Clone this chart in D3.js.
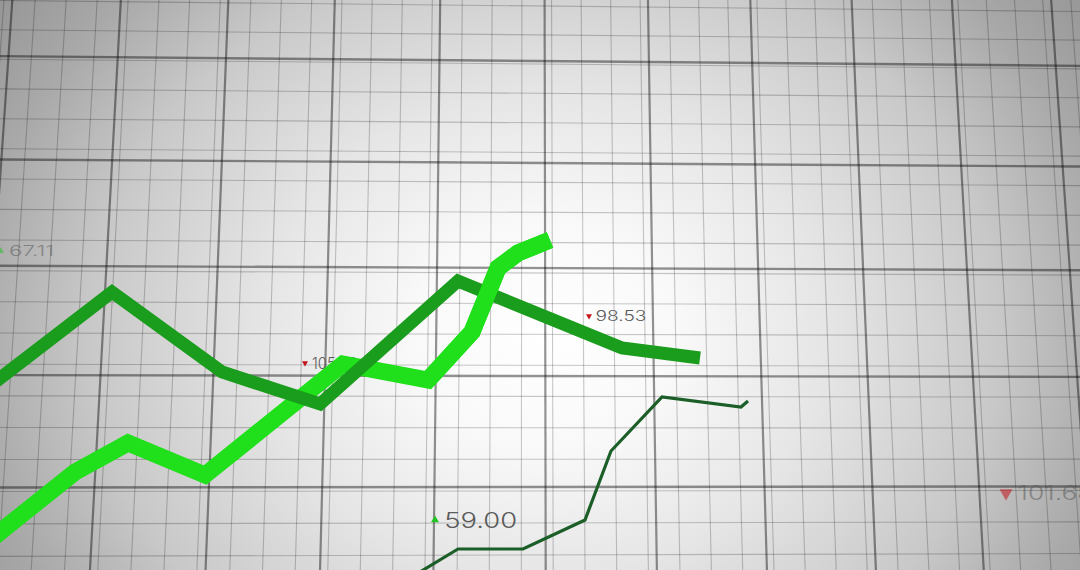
<!DOCTYPE html>
<html>
<head>
<meta charset="utf-8">
<script src="https://cdn.jsdelivr.net/npm/d3@7"></script>
<style>
  html, body { margin: 0; padding: 0; background: #fff; overflow: hidden; }
  svg { display: block; }
</style>
</head>
<body>
<svg id="chart" width="1080" height="570"></svg>
<script>
// ---------------- DATA ----------------
// time axis (arbitrary units) and price-like values for the three series
const tBright = [-1, 7.5, 12.8, 20.5, 34.3, 42.8, 47.2, 49.8, 51.8, 55];
const vBright = [3.0, 9.8, 12.7, 9.5, 20.6, 19.0, 23.8, 30.2, 31.7, 33.0];

const tDark = [-1, 11.2, 22.2, 32, 45.8, 62.2, 70];
const vDark = [18.4, 27.8, 19.8, 16.6, 28.9, 22.2, 21.2];

const tThin = [41, 45.8, 52.3, 58.5, 61.1, 66.2, 74.1, 74.8];
const vThin = [-0.8, 2.1, 2.1, 5.0, 11.9, 17.3, 16.3, 16.9];

// ticker labels
const labelText = ["67.11", "105.63", "98.53", "59.00", "101.68"];
const labelDir  = ["up", "down", "down", "up", "down"];
const labelT    = [0.05, 30.5, 58.9, 43.5, 100.6];
const labelV    = [31.9, 20.7, 25.4, 5.0, 7.7];

// ---------------- SETUP ----------------
const W = 1080, H = 570;
const svg = d3.select("#chart");
const x = d3.scaleLinear().domain([0, 108]).range([0, W]);
const y = d3.scaleLinear().domain([0, 57]).range([H, 0]);

const defs = svg.append("defs");
const grad = defs.append("radialGradient")
  .attr("id", "bg")
  .attr("gradientUnits", "userSpaceOnUse")
  .attr("cx", 0).attr("cy", 0).attr("r", 1)
  .attr("gradientTransform", "translate(545,335) scale(735,630)");
[[0, "#ffffff"], [0.18, "#f9f9f9"], [0.38, "#e6e6e6"], [0.62, "#c8c8c8"], [0.78, "#a9a9a9"], [1, "#8a8a8a"]]
  .forEach(([o, c]) => grad.append("stop").attr("offset", o).attr("stop-color", c));

svg.append("rect").attr("width", W).attr("height", H).attr("fill", "url(#bg)");

// ---------------- PERSPECTIVE GRID ----------------
const X0 = 530, YV = -7550, YREF = 200;
function vx(u, yy) { return X0 + (u - X0) * (yy - YV) / (YREF - YV); }
function hy(v, xx) { return v + (445 - v) * (xx - 540) / 42800; }

const minorU = d3.range(-1, 37).map(k => 22 + 31.95 * k - 0.045 * k * k);
const majorU = d3.range(-1, 10).map(j => 110 + 110.86 * j - 0.528 * j * j);
const minorV = d3.range(0, 19).map(m => 6 + 28.83 * m + 0.0926 * m * m);
const majorV = d3.range(0, 5).map(n => 61 + 100.5 * n + 1.5 * n * n);

const grid = svg.append("g");
function vLines(us, op, w) {
  grid.selectAll(null).data(us).enter().append("line")
    .attr("x1", u => vx(u, -5)).attr("y1", -5)
    .attr("x2", u => vx(u, H + 5)).attr("y2", H + 5)
    .attr("stroke", "#000").attr("stroke-opacity", op).attr("stroke-width", w);
}
function hLines(vs, op, w) {
  grid.selectAll(null).data(vs).enter().append("line")
    .attr("x1", -5).attr("y1", v => hy(v, -5))
    .attr("x2", W + 5).attr("y2", v => hy(v, W + 5))
    .attr("stroke", "#000").attr("stroke-opacity", op).attr("stroke-width", w);
}
vLines(minorU, 0.21, 1.1);
hLines(minorV, 0.21, 1.1);
vLines(majorU, 0.42, 2.2);
hLines(majorV, 0.42, 2.4);

// ---------------- LABELS (under the lines) ----------------
const labelSize   = [14, 16, 14, 21, 20];
const labelLen    = [45, 45, 51, 73, 76];
const labelOp     = [0.55, 1, 1, 1, 0.55];
const triW        = [7, 6, 6, 8, 13];
const lab = svg.append("g");
labelText.forEach((txt, i) => {
  const px = x(labelT[i]), py = y(labelV[i]);
  const g = lab.append("g").attr("opacity", labelOp[i]);
  const area = Math.sqrt(3) / 4 * triW[i] * triW[i];
  g.append("path")
    .attr("d", d3.symbol(d3.symbolTriangle, area)())
    .attr("transform", `translate(${px},${py}) rotate(${labelDir[i] === "down" ? 180 : 0})`)
    .attr("fill", labelDir[i] === "down" ? "#c4141a" : "#22c322");
  g.append("text")
    .attr("x", i === 0 ? 9 : px + triW[i] * 0.5 + labelSize[i] * 0.25)
    .attr("y", py + labelSize[i] * 0.36)
    .attr("font-family", "Inter, 'DejaVu Sans', sans-serif")
    .attr("font-weight", 300)
    .attr("font-size", labelSize[i])
    .attr("fill", "#5a5a5a")
    .attr("textLength", labelLen[i])
    .attr("lengthAdjust", "spacingAndGlyphs")
    .text(txt);
});

// ---------------- SERIES ----------------
const line = d3.line().x(d => x(d[0])).y(d => y(d[1]));
const bright = d3.zip(tBright, vBright);
const dark = d3.zip(tDark, vDark);
const thin = d3.zip(tThin, vThin);

const lines = svg.append("g").attr("fill", "none").attr("stroke-linecap", "butt");
lines.append("path").attr("d", line(bright))
  .attr("stroke", "#1fe01a").attr("stroke-width", 17).attr("stroke-linejoin", "miter");
lines.append("path").attr("d", line(dark))
  .attr("stroke", "#1a9c1c").attr("stroke-width", 13).attr("stroke-linejoin", "miter");
// upper part of the bright ribbon passes over the dark one
lines.append("path").attr("d", line(bright.slice(5)))
  .attr("stroke", "#1fe01a").attr("stroke-width", 17).attr("stroke-linejoin", "miter");
lines.append("path").attr("d", line(thin))
  .attr("stroke", "#1b5e28").attr("stroke-width", 3.2).attr("stroke-linejoin", "miter");
</script>
</body>
</html>
